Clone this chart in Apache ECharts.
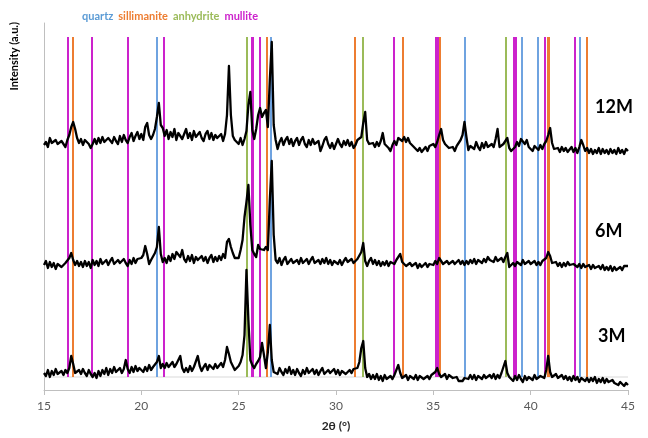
<!DOCTYPE html>
<html>
<head>
<meta charset="utf-8">
<script src="https://cdn.jsdelivr.net/npm/echarts@6/dist/echarts.min.js"></script>
<style>
  html, body { margin: 0; padding: 0; background: #ffffff; }
  #chart { width: 648px; height: 438px; }
</style>
</head>
<body>
<div id="chart"></div>
<script>
// Diffraction scans, 2θ from 15° to 45° in 0.1° steps (arbitrary intensity units)
const twoThetaStart = 15;
const twoThetaStep = 0.1;

const intensity12M = [
  20,23,18,27,22,21,25,21,19,24,
  22,18,25,30,38,43,36,27,22,26,
  20,25,27,21,17,21,26,21,27,22,
  28,23,21,27,29,22,28,24,21,29,
  23,30,25,22,28,32,24,29,33,26,
  31,25,38,42,30,26,30,36,48,62,
  40,37,29,35,26,33,28,36,25,32,
  34,26,31,36,27,32,25,34,28,26,
  33,27,24,31,34,26,32,25,30,27,
  26,31,24,31,50,99,50,29,25,24,
  21,27,20,26,34,60,73,35,26,36,
  50,57,48,52,55,38,85,123,40,25,
  16,23,27,20,25,28,21,26,19,24,
  27,20,25,28,21,18,25,20,26,21,
  19,24,14,19,25,28,21,17,22,16,
  21,26,21,18,24,20,25,19,23,17,
  20,25,24,28,42,53,25,21,19,22,
  18,23,19,24,32,21,19,17,14,20,
  24,20,27,28,24,28,23,27,22,20,
  18,16,14,17,13,15,18,14,19,21,
  21,18,23,30,36,25,21,19,17,16,
  18,14,19,21,25,30,43,28,15,19,
  21,16,23,18,15,22,17,23,18,16,
  21,18,26,36,18,16,21,22,27,17,
  14,12,18,23,19,26,28,21,25,18,
  16,14,19,21,15,20,16,21,24,30,
  37,22,16,14,17,13,18,14,17,13,
  15,18,13,17,12,18,25,20,14,17,
  12,16,11,15,12,17,11,16,12,15,
  11,16,12,15,11,17,12,15,11,16,14
];

const intensity6M = [
  15,19,12,18,13,17,11,16,18,13,
  12,17,18,22,27,20,15,19,14,18,
  13,19,14,18,12,20,15,19,14,21,
  16,14,20,15,19,22,16,14,20,17,
  15,21,17,14,20,16,22,17,21,23,
  22,25,34,26,16,20,22,27,33,53,
  26,18,22,17,24,19,26,21,28,30,
  23,30,21,18,24,19,25,17,23,20,
  18,24,19,23,17,22,25,18,23,19,
  24,20,26,22,38,41,33,27,22,20,
  22,30,40,63,78,95,55,30,26,23,
  35,31,33,30,33,30,80,119,45,20,
  17,22,15,20,23,16,14,21,17,15,
  20,16,22,17,15,21,16,20,23,17,
  15,20,16,21,17,22,16,20,15,19,
  21,16,20,15,19,22,18,16,21,17,
  16,21,22,28,37,19,14,19,22,16,
  20,15,19,14,18,15,19,14,18,20,
  16,20,22,26,18,16,14,13,17,14,
  13,17,12,16,13,12,17,13,16,18,
  15,19,16,22,19,16,14,19,16,15,
  19,16,15,20,16,19,15,19,16,20,
  17,21,16,20,22,17,21,18,23,20,
  22,18,23,19,17,22,18,23,27,13,
  12,17,14,18,19,15,20,16,15,19,
  16,14,19,15,18,15,19,20,22,28,
  24,17,15,18,14,17,13,17,14,18,
  15,13,16,18,13,16,12,16,13,12,
  15,11,15,12,10,14,11,15,10,13,
  10,14,9,13,10,9,13,10,14,12,14
];

const intensity3M = [
  17,14,20,13,19,15,21,16,14,19,
  15,20,17,22,34,26,17,15,20,16,
  21,17,14,20,16,13,17,12,19,14,
  20,16,22,15,21,17,23,18,16,22,
  17,21,30,21,17,23,18,24,19,22,
  23,18,23,19,25,20,23,25,28,34,
  22,26,22,27,23,21,28,23,26,28,
  34,22,18,22,18,24,19,23,24,34,
  24,19,23,26,20,25,27,21,26,22,
  21,27,23,30,43,36,28,24,20,22,
  24,28,35,55,120,70,30,25,22,26,
  29,33,47,35,22,38,65,30,18,20,
  16,22,18,15,21,17,23,16,20,15,
  21,17,14,20,16,22,17,15,21,16,
  20,15,19,22,16,14,20,17,15,21,
  16,20,15,19,21,16,14,20,17,21,
  20,22,28,42,49,22,13,16,11,15,
  11,16,10,14,9,15,11,10,14,11,
  15,16,25,17,12,11,15,10,14,16,
  11,15,10,14,16,11,9,14,11,15,
  16,18,22,16,13,12,16,11,15,17,
  12,10,13,9,8,9,12,14,11,15,
  11,15,10,14,16,11,15,12,10,15,
  12,16,11,15,12,17,18,29,17,13,
  11,9,14,10,15,11,8,14,10,13,
  12,10,15,11,9,14,16,12,20,34,
  18,13,11,16,12,10,15,11,14,10,
  13,9,14,10,13,8,12,11,9,12,
  8,12,9,13,7,11,8,12,7,11,
  8,6,10,7,9,5,8,6,4,7,5
];

// vertical stacking of the three scans
const offset12M = 225;
const offset6M = 110;
const offset3M = 0;

// reference peak positions (2θ, °)
const quartzPeaks = [20.81, 26.63, 36.60, 39.54, 40.36, 42.54];
const sillimanitePeaks = [16.46, 26.46, 30.94, 33.44, 35.32, 40.88, 40.95, 42.87];
const anhydritePeaks = [25.43, 31.38, 38.70];
const mullitePeaks = [16.24, 17.44, 19.30, 21.15, 25.67, 25.72, 26.08, 32.99, 35.12, 35.22, 39.15, 39.25, 40.72, 42.25];

const refLineBottom = 13;
const refLineTop = 353;
const refBaseline = 13;

const sampleNames = ['12M', '6M', '3M'];

function toPoints(values, offset) {
  return values.map((v, i) => [(twoThetaStart * 10 + i) / 10, v + offset]);
}

function refSeries(name, color, peaks) {
  return {
    name: name,
    type: 'line',
    data: [],
    symbol: 'none',
    z: 1,
    itemStyle: { color: color },
    lineStyle: { color: color },
    markLine: {
      silent: true,
      symbol: 'none',
      label: { show: false },
      animation: false,
      lineStyle: { color: color, width: 2, type: 'solid', opacity: 1 },
      data: peaks.map(p => [{ coord: [p, refLineBottom] }, { coord: [p, refLineTop] }])
    }
  };
}

function scanSeries(name, values, offset) {
  return {
    name: name,
    type: 'line',
    data: toPoints(values, offset),
    symbol: 'none',
    z: 5,
    lineStyle: { color: '#000000', width: 2.3, join: 'round' },
    itemStyle: { color: '#000000' }
  };
}

const chart = echarts.init(document.getElementById('chart'), null, { renderer: 'canvas' });

chart.setOption({
  animation: false,
  backgroundColor: '#ffffff',
  textStyle: { fontFamily: 'Lato' },
  grid: { left: 44, right: 20, top: 23, bottom: 48 },
  legend: {
    left: 72,
    top: 6,
    icon: 'none',
    itemWidth: 0,
    itemHeight: 0,
    itemGap: 0,
    selectedMode: false,
    textStyle: { fontSize: 11, fontWeight: 'bold', fontFamily: 'Lato' },
    data: [
      { name: 'quartz', textStyle: { color: '#5b9bd5' } },
      { name: 'sillimanite', textStyle: { color: '#ed7d31' } },
      { name: 'anhydrite', textStyle: { color: '#9bbb59' } },
      { name: 'mullite', textStyle: { color: '#cc22cc' } }
    ]
  },
  xAxis: {
    type: 'value',
    min: 15,
    max: 45,
    interval: 5,
    name: '2θ (°)',
    nameLocation: 'middle',
    nameGap: 30,
    nameTextStyle: { fontSize: 12, fontWeight: 'bold', color: '#262626', fontFamily: 'Lato' },
    axisLine: { show: true, lineStyle: { color: '#bfbfbf', width: 1 } },
    axisTick: { show: true, inside: false, length: 5, lineStyle: { color: '#bfbfbf' } },
    axisLabel: { fontSize: 12, color: '#595959', margin: 10, fontFamily: 'Lato' },
    splitLine: { show: false }
  },
  yAxis: {
    type: 'value',
    min: 0,
    max: 367,
    axisLine: { show: true, lineStyle: { color: '#bfbfbf', width: 1 } },
    axisTick: { show: false },
    axisLabel: { show: false },
    splitLine: { show: false }
  },
  graphic: [
    {
      type: 'text',
      left: 9,
      top: 22,
      style: {
        text: 'Intensity (a.u.)',
        fontSize: 11,
        fontWeight: 'bold',
        fontFamily: 'Lato',
        fill: '#000000'
      },
      rotation: Math.PI / 2,
      originX: 0,
      originY: 0
    },
    { type: 'text', left: 595, top: 98, style: { text: sampleNames[0], fontSize: 18, fontWeight: 'bold', fontFamily: 'Lato', fill: '#000000' } },
    { type: 'text', left: 595, top: 222, style: { text: sampleNames[1], fontSize: 18, fontWeight: 'bold', fontFamily: 'Lato', fill: '#000000' } },
    { type: 'text', left: 598, top: 327, style: { text: sampleNames[2], fontSize: 18, fontWeight: 'bold', fontFamily: 'Lato', fill: '#000000' } }
  ],
  series: [
    {
      name: 'baseline',
      type: 'line',
      data: [[15, refBaseline], [45, refBaseline]],
      symbol: 'none',
      z: 0,
      silent: true,
      lineStyle: { color: '#d9d9d9', width: 1 }
    },
    refSeries('quartz', '#6fa3e0', quartzPeaks),
    refSeries('sillimanite', '#ed7d31', sillimanitePeaks),
    refSeries('anhydrite', '#9bbb59', anhydritePeaks),
    refSeries('mullite', '#cc22cc', mullitePeaks),
    scanSeries(sampleNames[0], intensity12M, offset12M),
    scanSeries(sampleNames[1], intensity6M, offset6M),
    scanSeries(sampleNames[2], intensity3M, offset3M)
  ]
});
</script>
</body>
</html>
